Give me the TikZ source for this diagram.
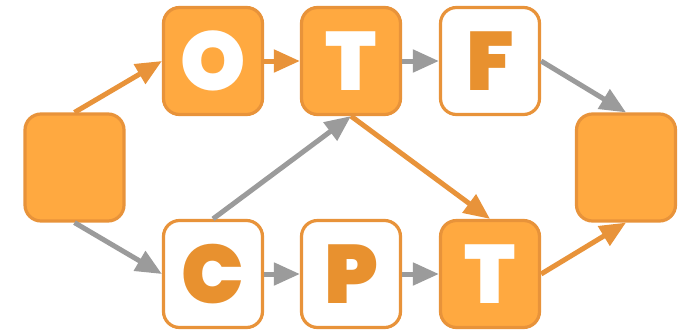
\documentclass[tikz,border=0pt]{standalone}
\usepackage{fontspec}
\usetikzlibrary{arrows.meta}
\newfontfamily\letterfont{Poppins Black}
\definecolor{boxfill}{HTML}{FFA940}
\definecolor{boxline}{HTML}{E8933A}
\definecolor{lettercol}{HTML}{E8912F}
\definecolor{linkgray}{HTML}{9B9B9B}
\tikzset{
  card/.style={draw=boxline, line width=3.2pt, rounded corners=16pt,
    minimum width=99pt, minimum height=107pt, inner sep=0pt,
    text height=58pt, text depth=0pt,
    font=\letterfont\fontsize{83}{83}\selectfont},
  full/.style={card, fill=boxfill, text=white},
  blank/.style={card, fill=white, text=lettercol},
  link/.style={line width=5pt, -{Triangle[length=26pt,width=22pt]}},
  hot/.style={link, draw=boxline, color=boxline},
  cold/.style={link, draw=linkgray, color=linkgray},
}
\begin{document}
\begin{tikzpicture}[x=1pt, y=-1pt]
\useasboundingbox (0,0) rectangle (679,330);
% start and end cards
\node[full] (start) at (74.5,167.5) {};
\node[full] (finish) at (626,167.5) {};
% upper row
\node[full]  (o)  at (213,61) {O};
\node[full]  (t1) at (351,61) {T};
\node[blank] (f)  at (490,61) {F};
% lower row
\node[blank] (c)  at (213,274) {C};
\node[blank] (p)  at (351,274) {P};
\node[full]  (t2) at (490,274) {T};
% connections
\draw[hot]  (start.north) -- (o.west);
\draw[hot]  (o.east) -- (t1.west);
\draw[cold] (t1.east) -- (f.west);
\draw[cold] (f.east) -- (finish.north);
\draw[cold] (start.south) -- (c.west);
\draw[cold] (c.east) -- (p.west);
\draw[cold] (p.east) -- (t2.west);
\draw[hot]  (t2.east) -- (finish.south);
\draw[cold] (c.north) -- (t1.south);
\draw[hot]  (t1.south) -- (t2.north);
\end{tikzpicture}
\end{document}
